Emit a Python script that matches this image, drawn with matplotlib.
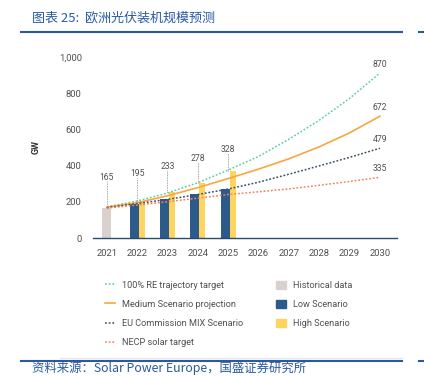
import matplotlib.pyplot as plt
from matplotlib.lines import Line2D
from matplotlib.patches import Patch

plt.rcParams['font.family'] = ['Roboto', 'DejaVu Sans']

years = [2021, 2022, 2023, 2024, 2025, 2026, 2027, 2028, 2029, 2030]
bar_years = [2022, 2023, 2024, 2025]

historical = 165
low = [188, 214, 241, 272]
high = [200, 252, 305, 372]

re_target = [172, 204, 248, 305, 375, 450, 545, 650, 770, 910]
medium = [170, 195, 233, 278, 328, 380, 437, 503, 580, 672]
eu_mix = [168, 190, 213, 240, 270, 308, 352, 398, 445, 495]
necp = [165, 182, 200, 220, 240, 255, 271, 291, 312, 335]

value_labels = ['165', '195', '233', '278', '328']
end_labels = ['870', '672', '479', '335']

c_green = '#62cfa3'
c_orange = '#f7a740'
c_navy = '#3e4e6c'
c_red = '#f4845f'
c_low = '#2c5a8a'
c_high = '#fdd45e'
c_hist = '#d9d1cf'
c_text = '#505050'
c_blue = '#2a59a3'

fig = plt.figure(figsize=(4.24, 3.76), dpi=100)
ax = fig.add_axes([0.219, 0.367, 0.717, 0.482])

# bars
ax.bar(2021, historical, width=0.3, color=c_hist, zorder=2)
ax.bar([y - 0.1 for y in bar_years], low, width=0.3, color=c_low, zorder=2)
ax.bar([y + 0.15 for y in bar_years], high, width=0.2, color=c_high, zorder=2)

# lines
dot = (0, (1.2, 1.2))
ax.plot(years, re_target, color=c_green, lw=1.1, ls=dot, zorder=3)
ax.plot(years, medium, color=c_orange, lw=1.2, zorder=3)
ax.plot(years, eu_mix, color=c_navy, lw=1.1, ls=dot, zorder=3)
ax.plot(years, necp, color=c_red, lw=1.1, ls=dot, zorder=3)

# value labels with leader lines
tops = [historical] + high
for i, yr in enumerate(years[:5]):
    label_y = medium[i] + 163
    ax.plot([yr, yr], [tops[i], label_y - 20], color='#8a8a8a', lw=0.6,
            ls=(0, (1, 1)), zorder=4)
    ax.text(yr, label_y, value_labels[i], ha='center', va='center',
            fontsize=6.2, color=c_text)

# end labels
for series, lab in zip([re_target, medium, eu_mix, necp], end_labels):
    ax.annotate(lab, (2030, series[-1]), xytext=(0, 3), textcoords='offset points',
                ha='center', va='bottom', fontsize=6.2, color=c_text,
                annotation_clip=False)

ax.set_xlim(2020.54, 2030.56)
ax.set_ylim(0, 1000)
ax.set_xticks(years)
ax.set_yticks([0, 200, 400, 600, 800, 1000])
ax.set_yticklabels(['0', '200', '400', '600', '800', '1,000'])
ax.tick_params(length=0, labelsize=6.8, labelcolor=c_text)
ax.tick_params(axis='y', pad=8)
ax.tick_params(axis='x', pad=8)
for s in ['top', 'right', 'left']:
    ax.spines[s].set_visible(False)
ax.spines['bottom'].set_color('#2c4a6b')
ax.spines['bottom'].set_linewidth(1.0)
ax.set_ylabel('GW', fontsize=6.5, fontweight='bold', color='#333333', labelpad=13)

# legend
handles = [
    Line2D([], [], color=c_green, lw=1.1, ls=dot),
    Line2D([], [], color=c_orange, lw=1.2),
    Line2D([], [], color=c_navy, lw=1.1, ls=dot),
    Line2D([], [], color=c_red, lw=1.1, ls=dot),
    Patch(color=c_hist),
    Patch(color=c_low),
    Patch(color=c_high),
]
labels = ['100% RE trajectory target', 'Medium Scenario projection',
          'EU Commission MIX Scenario', 'NECP solar target',
          'Historical data', 'Low Scenario', 'High Scenario']
leg = fig.legend(handles, labels, ncol=2, loc='upper left',
                 bbox_to_anchor=(0.2476, 0.253), frameon=False, fontsize=6.6,
                 borderpad=0, borderaxespad=0, handlelength=1.1,
                 handleheight=0.9, handletextpad=0.75, labelspacing=1.1,
                 columnspacing=3.6)
for t in leg.get_texts():
    t.set_color(c_text)

# header / footer
fig.text(0.075, 0.953, '图表 25:  欧洲光伏装机规模预测', fontsize=9.4, color=c_blue,
         style='italic', va='center', family=['Noto Sans CJK SC', 'DejaVu Sans'])
fig.add_artist(Line2D([0.05, 0.948], [0.915, 0.915], color=c_blue, lw=1.5))
fig.add_artist(Line2D([0.988, 1.0], [0.915, 0.915], color=c_blue, lw=1.5))
fig.add_artist(Line2D([0.142, 0.948], [0.049, 0.049], color='#e3e7eb', lw=0.8))
fig.add_artist(Line2D([0.05, 0.948], [0.040, 0.040], color=c_blue, lw=1.5))
fig.add_artist(Line2D([0.988, 1.0], [0.040, 0.040], color=c_blue, lw=1.5))
fig.text(0.075, 0.021, '资料来源：Solar Power Europe，国盛证券研究所', fontsize=8.9,
         color=c_blue, style='italic', va='center',
         family=['Noto Sans CJK SC', 'DejaVu Sans'])

fig.savefig('out.png', dpi=100)
